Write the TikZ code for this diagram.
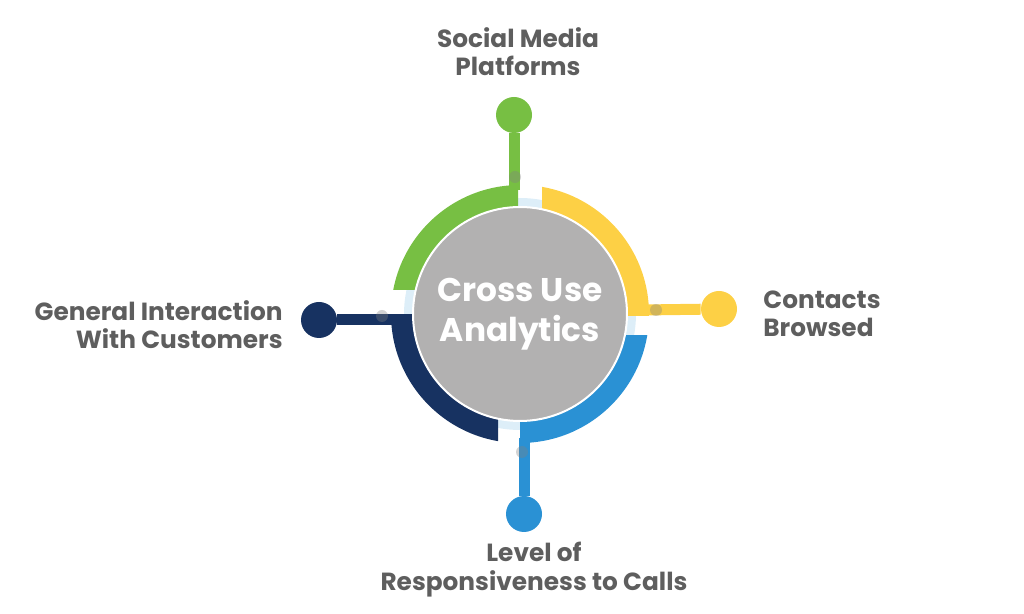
\documentclass[tikz,border=0pt]{standalone}
\usepackage{fontspec}
\setmainfont{Poppins}
\usepackage{xcolor}

\definecolor{cugreen}{HTML}{77BF43}
\definecolor{cuyellow}{HTML}{FDD045}
\definecolor{cublue}{HTML}{2A91D4}
\definecolor{cunavy}{HTML}{173261}
\definecolor{cugray}{HTML}{B2B1B1}
\definecolor{cuhalo}{HTML}{DDEEF8}
\definecolor{cutext}{HTML}{5E5E5E}

\tikzset{
  ball/.style={circle,fill=#1,minimum size=18pt,inner sep=0pt},
  stem/.style={draw=#1,line width=5.5pt},
  lbl/.style={text=cutext,font=\fontsize{12.4}{14.2}\selectfont\bfseries,align=center,inner sep=0pt}
}

\begin{document}
\begin{tikzpicture}[x=0.5pt,y=-0.5pt]

  % Parameters
  \def\cx{520}
  \def\cy{314}
  \def\rin{107}
  \def\rout{129}
  \def\rhalo{116}

  \useasboundingbox (0,0) rectangle (1024,614);

  % halo behind the hub
  \fill[cuhalo] (\cx,\cy) circle (\rhalo);

  % quarter rings (annulus clipped to a box)
  \foreach \col/\xa/\ya/\xb/\yb in {cugreen/0/0/518/290, cuyellow/542/0/1024/316,
                                     cublue/520/336/1024/614, cunavy/0/315/498/614} {
    \begin{scope}
      \clip (\xa,\ya) rectangle (\xb,\yb);
      \fill[\col,even odd rule] (\cx,\cy) circle (\rout) (\cx,\cy) circle (\rin);
    \end{scope}
  }

  % hub
  \node[circle,fill=cugray,draw=white,line width=1pt,minimum size=107pt,inner sep=0pt,
        text=white,align=center,font=\fontsize{16.4}{20}\selectfont\bfseries]
        (hub) at (\cx,\cy) {Cross Use\\Analytics};

  % balls
  \node[ball=cugreen]  (social)   at (514,115) {};
  \node[ball=cuyellow] (contacts) at (719,309) {};
  \node[ball=cublue]   (calls)    at (524,514) {};
  \node[ball=cunavy]   (general)  at (319,320) {};

  % stem feet on the rings
  \coordinate (socialft)   at (514,190);
  \coordinate (contactsft) at (642,310);
  \coordinate (callsft)    at (524,438);
  \coordinate (generalft)  at (398,320);

  % stems
  \draw[stem=cugreen]  (social)   -- (socialft);
  \draw[stem=cuyellow] (contacts) -- (contactsft);
  \draw[stem=cublue]   (calls)    -- (callsft);
  \draw[stem=cunavy]   (general)  -- (generalft);

  % joint dots
  \foreach \x/\y in {515/177, 656/310, 522/452, 382/316} {
    \fill[gray,opacity=0.35] (\x,\y) circle (6);
  }

  % labels
  \node[lbl,anchor=north]                 (sociallbl)   at (518,27)  {Social Media\\Platforms};
  \node[lbl,align=left,anchor=north west] (contactslbl) at (763,290) {Contacts\\Browsed};
  \node[lbl,align=right,anchor=north east](generallbl)  at (283,300) {General Interaction\\With Customers};
  \node[lbl,anchor=north]                 (callslbl)    at (534,542) {Level of\\Responsiveness to Calls};

\end{tikzpicture}
\end{document}
